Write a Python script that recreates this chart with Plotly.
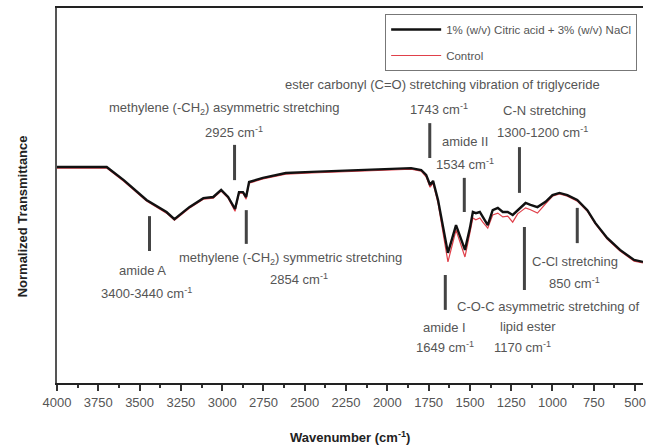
import plotly.graph_objects as go

# FTIR spectra: wavenumber (cm-1) and normalized transmittance
wavenumber = [4000, 3699, 3596, 3458, 3337, 3289, 3199, 3114, 3054, 3006, 2964, 2922,
              2898, 2874, 2855, 2837, 2753, 2615, 2458, 2175, 1856, 1795, 1765, 1741,
              1723, 1693, 1663, 1633, 1584, 1530, 1500, 1482, 1464, 1440, 1422, 1392,
              1362, 1331, 1301, 1271, 1241, 1211, 1187, 1163, 1133, 1091, 1042, 1000,
              958, 910, 850, 789, 741, 669, 591, 506, 452]

treated = [0.576, 0.576, 0.541, 0.488, 0.456, 0.437, 0.469, 0.493, 0.496, 0.515, 0.496, 0.464,
           0.509, 0.509, 0.496, 0.536, 0.547, 0.560, 0.563, 0.568, 0.573, 0.568, 0.555, 0.528,
           0.539, 0.488, 0.416, 0.347, 0.421, 0.355, 0.413, 0.456, 0.453, 0.456, 0.443, 0.421,
           0.461, 0.467, 0.456, 0.456, 0.448, 0.461, 0.469, 0.480, 0.475, 0.469, 0.483, 0.501,
           0.507, 0.501, 0.488, 0.461, 0.427, 0.387, 0.355, 0.328, 0.323]

control = [0.573, 0.573, 0.538, 0.485, 0.453, 0.434, 0.466, 0.490, 0.493, 0.512, 0.493, 0.458,
           0.506, 0.506, 0.490, 0.533, 0.544, 0.557, 0.560, 0.565, 0.570, 0.565, 0.550, 0.522,
           0.533, 0.480, 0.400, 0.323, 0.408, 0.336, 0.400, 0.440, 0.435, 0.440, 0.429, 0.413,
           0.448, 0.453, 0.443, 0.445, 0.429, 0.451, 0.459, 0.467, 0.462, 0.453, 0.478, 0.498,
           0.504, 0.498, 0.485, 0.458, 0.424, 0.384, 0.352, 0.325, 0.320]

series_names = ["1% (w/v) Citric acid + 3% (w/v) NaCl", "Control"]

tick_values = [4000, 3750, 3500, 3250, 3000, 2750, 2500, 2250, 2000, 1750, 1500, 1250, 1000, 750, 500]

# Band markers: wavenumber, bar top, bar bottom
band_positions = [3440, 2925, 2854, 1743, 1534, 1649, 1200, 1170, 850]
band_tops = [0.445, 0.635, 0.461, 0.693, 0.547, 0.288, 0.629, 0.416, 0.467]
band_bottoms = [0.352, 0.541, 0.371, 0.600, 0.456, 0.195, 0.507, 0.248, 0.373]

# Band labels: text, x (cm-1), y, anchor
band_labels = [
    ("methylene (-CH<sub>2</sub>) asymmetric stretching", 2988, 0.733, "center"),
    ("2925 cm<sup>-1</sup>", 2928, 0.669, "center"),
    ("ester carbonyl (C=O) stretching vibration of triglyceride", 1663, 0.797, "center"),
    ("1743 cm<sup>-1</sup>", 1687, 0.731, "center"),
    ("amide II", 1530, 0.643, "center"),
    ("1534 cm<sup>-1</sup>", 1530, 0.584, "center"),
    ("C-N stretching", 1048, 0.728, "center"),
    ("1300-1200 cm<sup>-1</sup>", 1060, 0.669, "center"),
    ("amide A", 3482, 0.299, "center"),
    ("3400-3440 cm<sup>-1</sup>", 3458, 0.240, "center"),
    ("methylene (-CH<sub>2</sub>) symmetric stretching", 2584, 0.331, "center"),
    ("2854 cm<sup>-1</sup>", 2536, 0.277, "center"),
    ("amide I", 1651, 0.149, "center"),
    ("1649 cm<sup>-1</sup>", 1651, 0.096, "center"),
    ("C-O-C asymmetric stretching of", 1590, 0.205, "left"),
    ("lipid ester", 1151, 0.152, "center"),
    ("1170 cm<sup>-1</sup>", 1181, 0.096, "center"),
    ("C-Cl stretching", 862, 0.323, "center"),
    ("850 cm<sup>-1</sup>", 868, 0.267, "center"),
]

FONT = "Liberation Sans, Arial, sans-serif"

fig = go.Figure()
# control drawn first so the treated curve sits on top of it
fig.add_trace(go.Scatter(x=wavenumber, y=control, mode="lines", name=series_names[1],
                         line=dict(color="#e0404a", width=1.2),
                         legendgroup="control", legendrank=2))
fig.add_trace(go.Scatter(x=wavenumber, y=treated, mode="lines", name=series_names[0],
                         line=dict(color="#111111", width=2.4),
                         legendgroup="treated", legendrank=1))

for xv, y0, y1 in zip(band_positions, band_tops, band_bottoms):
    fig.add_shape(type="line", xref="x", yref="y", x0=xv, x1=xv, y0=y0, y1=y1,
                  line=dict(color="#444444", width=3))

for text, xv, yv, anchor in band_labels:
    fig.add_annotation(x=xv, y=yv, xref="x", yref="y", text=text, showarrow=False,
                       xanchor=anchor, yanchor="middle",
                       font=dict(family=FONT, size=13, color="#555555"))

fig.add_annotation(x=0.5, y=-0.144, xref="paper", yref="paper", showarrow=False,
                   text="<b>Wavenumber (cm<sup>-1</sup>)</b>", xanchor="center", yanchor="middle",
                   font=dict(family=FONT, size=13, color="#222222"))
fig.add_annotation(x=-0.0594, y=0.445, xref="paper", yref="paper", showarrow=False,
                   text="<b>Normalized Transmittance</b>", textangle=-90,
                   xanchor="center", yanchor="middle",
                   font=dict(family=FONT, size=13, color="#222222"))

fig.update_layout(
    width=646, height=448,
    margin=dict(l=57, r=0, t=8, b=65),
    plot_bgcolor="white", paper_bgcolor="white",
    font=dict(family=FONT, color="#555555"),
    legend=dict(x=0.56, y=0.984, xanchor="left", yanchor="top",
                bordercolor="#777777", borderwidth=1, bgcolor="white",
                traceorder="grouped", tracegroupgap=7, itemwidth=50,
                font=dict(family=FONT, size=11.5, color="#555555")),
    xaxis=dict(range=[4000, 452], tickvals=tick_values, ticks="outside", ticklen=6,
               tickwidth=1.5, tickcolor="#333333", showgrid=False, zeroline=False,
               showline=True, linecolor="#222222", linewidth=2, mirror=True,
               ticklabeloverflow="allow",
               tickfont=dict(family=FONT, size=13, color="#555555"),
               minor=dict(dtick=125, tick0=500, ticks="outside", ticklen=3,
                          tickcolor="#333333", tickwidth=1.5)),
    yaxis=dict(range=[0, 1], showticklabels=False, ticks="", showgrid=False,
               zeroline=False, showline=True, linecolor="#555555", linewidth=2),
)

fig.write_html("out.html")
